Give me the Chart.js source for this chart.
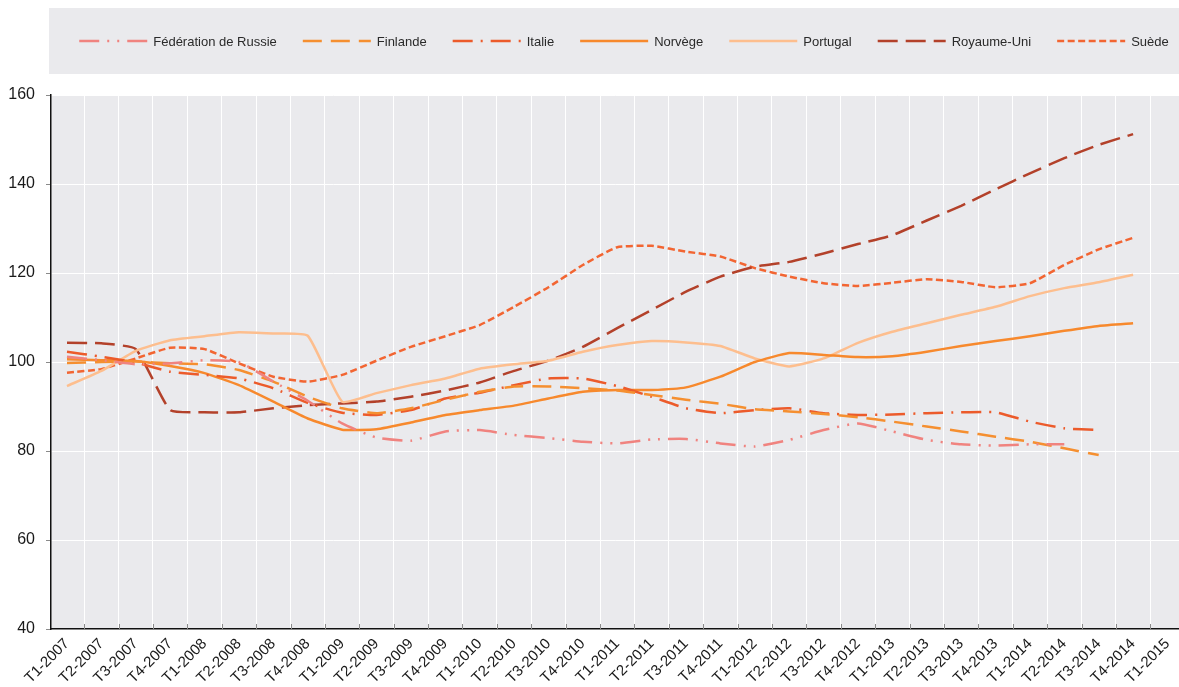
<!DOCTYPE html>
<html>
<head>
<meta charset="utf-8">
<script src="https://cdn.jsdelivr.net/npm/chart.js@4.4.1/dist/chart.umd.min.js"></script>
<style>
  html, body { margin: 0; padding: 0; background: #fff; }
  #wrap { width: 1179px; height: 687px; }
</style>
</head>
<body>
<div id="wrap"><canvas id="indexChart"></canvas></div>
<script>
// Trimestres (axe des x)
const categories = ['T1-2007', 'T2-2007', 'T3-2007', 'T4-2007', 'T1-2008', 'T2-2008', 'T3-2008', 'T4-2008',
  'T1-2009', 'T2-2009', 'T3-2009', 'T4-2009', 'T1-2010', 'T2-2010', 'T3-2010', 'T4-2010',
  'T1-2011', 'T2-2011', 'T3-2011', 'T4-2011', 'T1-2012', 'T2-2012', 'T3-2012', 'T4-2012',
  'T1-2013', 'T2-2013', 'T3-2013', 'T4-2013', 'T1-2014', 'T2-2014', 'T3-2014', 'T4-2014', 'T1-2015'];

const russie = [101.2, 100.4, 99.5, 99.7, 100.4, 100.0, 95.6, 91.3, 86.2, 83.0, 82.3, 84.4, 84.7, 83.6, 82.9, 82.1,
  81.7, 82.6, 82.7, 81.7, 81.0, 82.5, 84.7, 86.2, 84.4, 82.5, 81.5, 81.2, 81.5, 81.5];
const finlande = [99.8, 100.0, 100.1, 99.7, 99.5, 98.2, 95.6, 92.2, 89.6, 88.5, 89.6, 91.5, 93.3, 94.5, 94.5, 94.1,
  93.6, 92.6, 91.5, 90.6, 89.4, 88.9, 88.3, 87.6, 86.6, 85.5, 84.4, 83.2, 82.1, 80.6, 79.1];
const italie = [102.3, 101.2, 99.9, 97.8, 97.1, 96.3, 94.1, 90.8, 88.6, 88.1, 89.2, 91.8, 93.1, 94.8, 96.3, 96.3,
  94.6, 92.2, 89.6, 88.5, 89.2, 89.6, 88.5, 88.1, 88.2, 88.5, 88.7, 88.7, 86.6, 85.1, 84.7];
const norvege = [100.6, 100.4, 100.2, 99.1, 97.5, 94.8, 91.1, 87.3, 84.8, 84.9, 86.4, 88.1, 89.2, 90.2, 91.8, 93.3,
  93.7, 93.7, 94.3, 96.7, 100.0, 102.0, 101.6, 101.1, 101.3, 102.3, 103.6, 104.7, 105.8, 107.0, 108.1, 108.7];
const portugal = [94.6, 98.0, 102.5, 104.9, 105.8, 106.7, 106.4, 105.9, 91.1, 93.0, 94.8, 96.3, 98.5, 99.5, 100.3, 102.3,
  103.8, 104.7, 104.4, 103.6, 100.8, 99.0, 100.8, 104.3, 106.8, 108.7, 110.6, 112.4, 114.8, 116.6, 117.9, 119.6];
const royaumeUni = [104.3, 104.2, 102.9, 89.2, 88.7, 88.7, 89.6, 90.3, 90.7, 91.1, 92.2, 93.6, 95.4, 98.0, 100.3, 103.4,
  107.6, 111.7, 115.8, 119.2, 121.4, 122.5, 124.4, 126.5, 128.5, 131.8, 135.1, 138.8, 142.4, 145.8, 148.8, 151.2];
const suede = [97.6, 98.4, 100.8, 103.2, 102.9, 99.7, 96.7, 95.6, 97.1, 100.3, 103.4, 105.8, 108.3, 112.4, 116.8, 121.8,
  125.8, 126.1, 124.8, 123.7, 121.1, 119.2, 117.7, 117.1, 117.8, 118.6, 118.0, 116.8, 117.7, 121.8, 125.3, 127.9];

const yTicks = [40, 60, 80, 100, 120, 140, 160];

const FONT = "'Liberation Sans', Arial, sans-serif";
const GREY = '#EAEAED';

function pts(arr) {
  return arr.map((v, i) => ({ x: i, y: v }));
}

function serie(label, values, color, dash) {
  return {
    label: label,
    data: pts(values),
    borderColor: color,
    backgroundColor: color,
    borderWidth: 2.5,
    borderDash: dash,
    pointRadius: 0,
    tension: 0.15,
    fill: false
  };
}

// fond gris de la zone de tracé
const plotBg = {
  id: 'plotBg',
  beforeDraw(chart) {
    const { ctx, chartArea: a } = chart;
    ctx.save();
    ctx.fillStyle = GREY;
    ctx.fillRect(a.left, a.top, a.right - a.left, a.bottom - a.top);
    ctx.restore();
  }
};

// petites graduations vers l'intérieur sur l'axe des x
const innerTicks = {
  id: 'innerTicks',
  beforeDatasetsDraw(chart) {
    const { ctx, chartArea: a, scales } = chart;
    ctx.save();
    ctx.strokeStyle = '#8a8a8a';
    ctx.lineWidth = 1;
    for (let i = 0; i < categories.length - 1; i++) {
      const x = Math.round(scales.x.getPixelForValue(i + 0.5)) + 0.5;
      ctx.beginPath();
      ctx.moveTo(x, a.bottom - 5);
      ctx.lineTo(x, a.bottom);
      ctx.stroke();
    }
    ctx.restore();
  }
};

// légende dans un bandeau gris en haut
const topLegend = {
  id: 'topLegend',
  afterDraw(chart) {
    const ctx = chart.ctx;
    const sets = chart.data.datasets;
    const sample = 68, gapText = 6, gapItem = 26;
    ctx.save();
    ctx.fillStyle = GREY;
    ctx.fillRect(49, 8, chart.width - 49, 66);
    ctx.font = '13px ' + FONT;
    let total = 0;
    const widths = sets.map(d => ctx.measureText(d.label).width);
    widths.forEach(w => total += sample + gapText + w);
    total += gapItem * (sets.length - 1);
    let x = 624 - total / 2;
    const y = 41;
    sets.forEach((d, i) => {
      ctx.strokeStyle = d.borderColor;
      ctx.lineWidth = 2.5;
      ctx.setLineDash(d.borderDash || []);
      ctx.beginPath();
      ctx.moveTo(x, y);
      ctx.lineTo(x + sample, y);
      ctx.stroke();
      ctx.setLineDash([]);
      ctx.fillStyle = '#2a2a2a';
      ctx.textBaseline = 'middle';
      ctx.textAlign = 'left';
      ctx.fillText(d.label, x + sample + gapText, y + 1);
      x += sample + gapText + widths[i] + gapItem;
    });
    ctx.restore();
  }
};

const ctx = document.getElementById('indexChart').getContext('2d');
new Chart(ctx, {
  type: 'line',
  data: {
    datasets: [
      serie('Fédération de Russie', russie, '#F0837F', [20, 8, 2, 8, 2, 8]),
      serie('Finlande', finlande, '#F58F30', [19, 9]),
      serie('Italie', italie, '#EC5B2B', [20, 8, 2, 8]),
      serie('Norvège', norvege, '#F7892D', []),
      serie('Portugal', portugal, '#FDBE8E', []),
      serie('Royaume-Uni', royaumeUni, '#B3412A', [20, 8]),
      serie('Suède', suede, '#F26532', [7, 3.5])
    ]
  },
  options: {
    responsive: true,
    maintainAspectRatio: false,
    animation: false,
    layout: {
      padding: { top: 95, left: 0, right: 0, bottom: 0 }
    },
    plugins: {
      legend: { display: false },
      tooltip: { enabled: false }
    },
    scales: {
      x: {
        type: 'linear',
        min: -0.465,
        max: 32.335,
        afterFit: (s) => { s.height = 58; s.paddingRight = 0; s.paddingLeft = 0; },
        border: { color: '#111', width: 1.5 },
        grid: {
          color: '#ffffff',
          lineWidth: 1,
          offset: true,
          drawTicks: false
        },
        ticks: {
          stepSize: 1,
          includeBounds: false,
          autoSkip: false,
          minRotation: 45,
          maxRotation: 45,
          padding: 6,
          color: '#1a1a1a',
          font: { family: FONT, size: 15 },
          callback: (v) => categories[v] !== undefined ? categories[v] : ''
        }
      },
      y: {
        min: yTicks[0],
        max: yTicks[yTicks.length - 1],
        afterFit: (s) => { s.width = 51; },
        border: { color: '#111', width: 1.5 },
        grid: {
          color: '#ffffff',
          lineWidth: 1,
          tickColor: '#8a8a8a',
          tickLength: 5
        },
        ticks: {
          stepSize: 20,
          padding: 11,
          color: '#1a1a1a',
          font: { family: FONT, size: 16 }
        }
      }
    }
  },
  plugins: [plotBg, innerTicks, topLegend]
});
</script>
</body>
</html>
